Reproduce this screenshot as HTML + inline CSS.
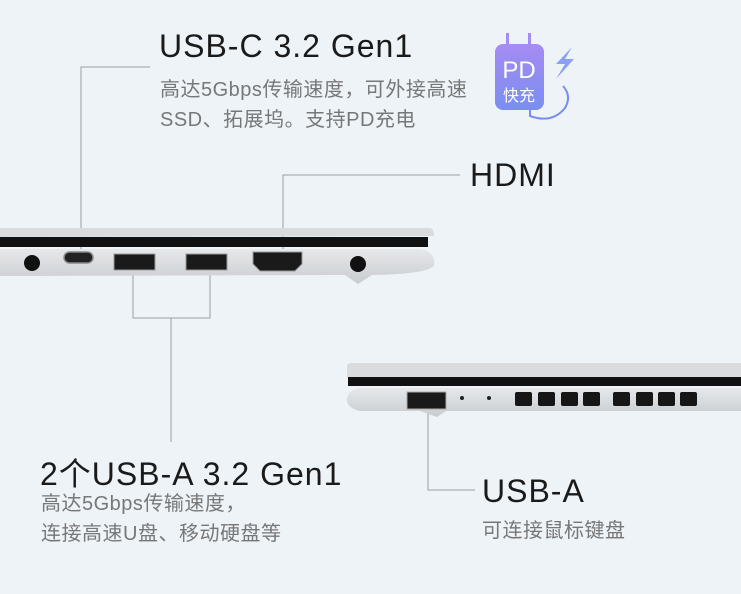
<!DOCTYPE html>
<html><head><meta charset="utf-8"><style>
body{margin:0;width:741px;height:594px;background:#eef3f7;position:relative;overflow:hidden;font-family:"Liberation Sans","Noto Sans CJK SC",sans-serif}
.t{position:absolute;color:#1a1a1a;font-size:32px;white-space:nowrap;letter-spacing:1px}
.s{position:absolute;color:#777;font-size:20px;white-space:nowrap;letter-spacing:0.5px}
svg{position:absolute;left:0;top:0}
</style></head><body>
<svg width="741" height="594" viewBox="0 0 741 594">
<defs>
<linearGradient id="pd" x1="0" y1="0" x2="0" y2="1"><stop offset="0" stop-color="#a58cf2"/><stop offset="1" stop-color="#7a8ef0"/></linearGradient>
<linearGradient id="base" x1="0" y1="0" x2="0" y2="1"><stop offset="0" stop-color="#e6e8ea"/><stop offset="1" stop-color="#c9cccf"/></linearGradient>
</defs>
<g stroke="#9a9fa3" stroke-width="1" fill="none">
<polyline points="150,67 81,67 81,253"/>
<polyline points="460,175 283,175 283,262"/>
<polyline points="133,270 133,318 210,318 210,270"/>
<line x1="171" y1="318" x2="171" y2="442"/>
<polyline points="428,410 428,490 475,490"/>
</g>
<path d="M0,228 L430,228 Q434,229 434,236 L0,237 Z" fill="#d9dbdd"/>
<rect x="0" y="237" width="428" height="10" fill="#111"/>
<path d="M0,249 L420,249 Q436,252 434,265 Q430,274 372,275 L358,284 L345,275 L0,276 Z" fill="url(#base)"/>
<circle cx="32" cy="263" r="8" fill="#111"/>
<rect x="64" y="252" width="29" height="11" rx="5.5" fill="#222" stroke="#888" stroke-width="1.5"/>
<rect x="114" y="254" width="41" height="16" fill="#1a1a1a" stroke="#999"/>
<rect x="186" y="254" width="41" height="16" fill="#1a1a1a" stroke="#999"/>
<path d="M253,252 L302,252 L302,264 L295,271 L260,271 L253,264 Z" fill="#1a1a1a" stroke="#999"/>
<circle cx="358" cy="264" r="8" fill="#111"/>
<path d="M347,365 Q348,363 352,363 L741,363 L741,377 L347,377 Z" fill="#d9dbdd"/>
<rect x="348" y="377" width="393" height="9" fill="#111"/>
<path d="M360,388 L741,388 L741,411 L446,411 L437,417 L420,411 L360,411 Q347,408 347,400 Q347,390 360,388 Z" fill="url(#base)"/>
<rect x="407" y="392" width="39" height="17" fill="#1a1a1a" stroke="#aaa"/>
<circle cx="462" cy="398" r="2" fill="#222"/><circle cx="489" cy="398" r="2" fill="#222"/>
<g fill="#161616">
<rect x="515" y="392" width="17" height="14" rx="2"/><rect x="538" y="392" width="17" height="14" rx="2"/><rect x="561" y="392" width="17" height="14" rx="2"/><rect x="583" y="392" width="17" height="14" rx="2"/>
<rect x="613" y="392" width="17" height="14" rx="2"/><rect x="636" y="392" width="17" height="14" rx="2"/><rect x="658" y="392" width="17" height="14" rx="2"/><rect x="680" y="392" width="17" height="14" rx="2"/>
</g>
<rect x="506" y="33" width="3" height="13" fill="#a58cf2"/><rect x="528" y="33" width="3" height="13" fill="#a58cf2"/>
<rect x="495" y="44" width="49" height="66" rx="8" fill="url(#pd)"/>
<path d="M530,110 L530,116 Q552,124 565,108 Q572,96 563,86" stroke="#7a8ef0" stroke-width="2" fill="none"/>
<path d="M572,47 L556,64 L565,64 L556,79 L574,59 L565,59 Z" fill="#8ba0f2"/>
<text x="519" y="78" font-size="24" fill="#fff" text-anchor="middle" font-family="Liberation Sans,sans-serif">PD</text>
<text x="519" y="101" font-size="16" fill="#fff" text-anchor="middle" font-family="Liberation Sans,Noto Sans CJK SC,sans-serif">快充</text>
</svg>
<div class="t" style="left:159px;top:28px">USB-C 3.2 Gen1</div>
<div class="s" style="left:160px;top:73px">高达5Gbps传输速度，可外接高速</div>
<div class="s" style="left:160px;top:103px">SSD、拓展坞。支持PD充电</div>
<div class="t" style="left:470px;top:157px">HDMI</div>
<div class="t" style="left:40px;top:449px">2个USB-A 3.2 Gen1</div>
<div class="s" style="left:41px;top:487px">高达5Gbps传输速度，</div>
<div class="s" style="left:41px;top:517px">连接高速U盘、移动硬盘等</div>
<div class="t" style="left:482px;top:473px">USB-A</div>
<div class="s" style="left:482px;top:514px">可连接鼠标键盘</div>
</body></html>
